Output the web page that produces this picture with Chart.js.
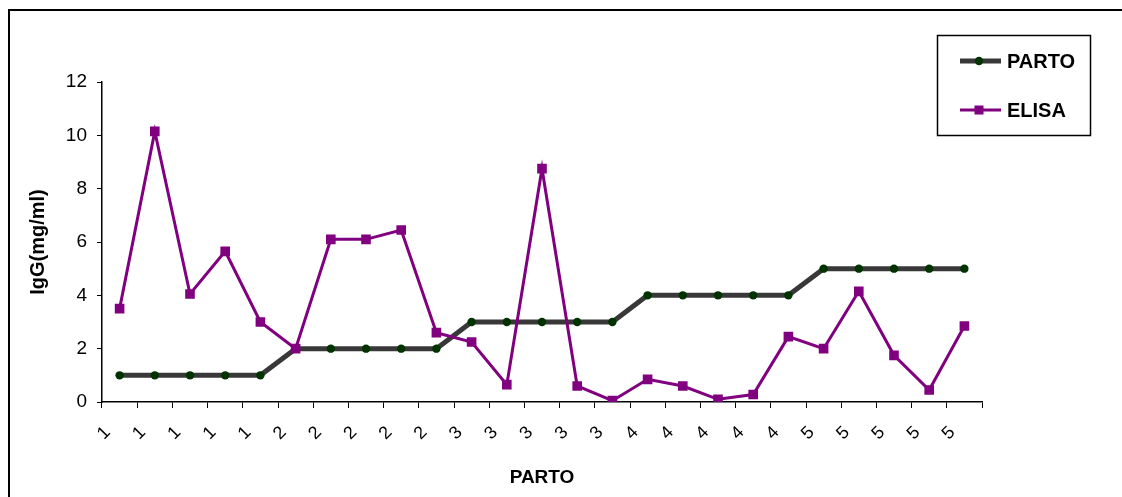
<!DOCTYPE html>
<html>
<head>
<meta charset="utf-8">
<title>IgG por parto</title>
<script src="https://cdn.jsdelivr.net/npm/chart.js@4.4.1/dist/chart.umd.min.js"></script>
<style>
  html, body { margin: 0; padding: 0; background: #ffffff; }
  #wrap { width: 1122px; height: 497px; }
</style>
</head>
<body>
<div id="wrap"><canvas id="chart" width="1122" height="497"></canvas></div>
<script>
// Número de parto de cada animal (eje X)
const categories = ['1','1','1','1','1','2','2','2','2','2','3','3','3','3','3','4','4','4','4','4','5','5','5','5','5'];
// Serie PARTO
const partoValues = [1,1,1,1,1,2,2,2,2,2,3,3,3,3,3,4,4,4,4,4,5,5,5,5,5];
// Serie ELISA, IgG en mg/ml
const elisaValues = [3.5,10.15,4.05,5.65,3.0,2.0,6.1,6.1,6.45,2.6,2.25,0.65,8.75,0.6,0.05,0.85,0.6,0.1,0.28,2.45,2.0,4.15,1.75,0.45,2.85];
// Escala del eje Y
const yMin = 0, yMax = 12, yStep = 2;

const FONT = '"Liberation Sans", Arial, Helvetica, sans-serif';

const styles = {
  parto: { line: '#383838', point: '#003300', width: 5 },
  elisa: { line: '#800080', point: '#800080', width: 3 }
};

// Marco exterior y leyenda con recuadro
const framePlugin = {
  id: 'frameAndLegend',
  afterDraw(chart) {
    const ctx = chart.ctx;
    ctx.save();
    // marco
    ctx.strokeStyle = '#000';
    ctx.lineWidth = 2;
    ctx.beginPath();
    ctx.moveTo(9, 600);
    ctx.lineTo(9, 10);
    ctx.lineTo(1200, 10);
    ctx.stroke();

    // recuadro de la leyenda
    ctx.lineWidth = 1.5;
    ctx.strokeRect(937.5, 35.5, 153, 100);

    const items = [
      { label: 'PARTO', s: styles.parto, shape: 'circle', y: 61 },
      { label: 'ELISA', s: styles.elisa, shape: 'rect', y: 110 }
    ];
    items.forEach(it => {
      ctx.strokeStyle = it.s.line;
      ctx.lineWidth = it.s.width;
      ctx.beginPath();
      ctx.moveTo(960, it.y);
      ctx.lineTo(1001, it.y);
      ctx.stroke();
      ctx.fillStyle = it.s.point;
      if (it.shape === 'circle') {
        ctx.beginPath();
        ctx.arc(979, it.y, 4.2, 0, Math.PI * 2);
        ctx.fill();
      } else {
        ctx.fillRect(979 - 4.5, it.y - 4.5, 9, 9);
      }
      ctx.fillStyle = '#000';
      ctx.font = 'bold 20px ' + FONT;
      ctx.textAlign = 'left';
      ctx.textBaseline = 'middle';
      ctx.fillText(it.label, 1007, it.y + 1);
    });
    ctx.restore();
  }
};

new Chart(document.getElementById('chart'), {
  type: 'line',
  data: {
    labels: categories,
    datasets: [
      {
        label: 'PARTO',
        data: partoValues,
        borderColor: styles.parto.line,
        borderWidth: styles.parto.width,
        pointStyle: 'circle',
        pointRadius: 4.2,
        pointBackgroundColor: styles.parto.point,
        pointBorderColor: styles.parto.point,
        pointBorderWidth: 0,
        tension: 0,
        order: 1
      },
      {
        label: 'ELISA',
        data: elisaValues,
        borderColor: styles.elisa.line,
        borderWidth: styles.elisa.width,
        pointStyle: 'rect',
        pointRadius: 6.8,
        pointBackgroundColor: styles.elisa.point,
        pointBorderColor: styles.elisa.point,
        pointBorderWidth: 0,
        tension: 0,
        order: 0
      }
    ]
  },
  options: {
    responsive: false,
    animation: false,
    events: [],
    layout: { padding: { top: 82, right: 140, left: 0, bottom: 0 } },
    plugins: {
      legend: { display: false },
      tooltip: { enabled: false }
    },
    scales: {
      x: {
        offset: true,
        grid: {
          offset: true,
          drawOnChartArea: false,
          drawTicks: true,
          tickLength: 6,
          tickColor: '#000',
          tickWidth: 1
        },
        border: { display: true, color: '#000', width: 1.5 },
        ticks: {
          autoSkip: false,
          minRotation: 45,
          maxRotation: 45,
          color: '#000',
          font: { family: FONT, size: 18 },
          labelOffset: -12,
          padding: 14
        },
        title: {
          display: true,
          text: 'PARTO',
          color: '#000',
          font: { family: FONT, size: 19, weight: 'bold' },
          padding: { top: 0, bottom: 8 }
        },
        afterFit(scale) { scale.height = 95; }
      },
      y: {
        min: yMin,
        max: yMax,
        ticks: {
          stepSize: yStep,
          color: '#000',
          font: { family: FONT, size: 19 },
          padding: 10
        },
        grid: {
          drawOnChartArea: false,
          drawTicks: true,
          tickLength: 5,
          tickColor: '#000',
          tickWidth: 1
        },
        border: { display: true, color: '#000', width: 1.5 },
        title: {
          display: true,
          text: 'IgG(mg/ml)',
          color: '#000',
          font: { family: FONT, size: 20, weight: 'bold' },
          padding: { top: 26, bottom: 0 }
        },
        afterFit(scale) { scale.width = 102; }
      }
    }
  },
  plugins: [framePlugin]
});
</script>
</body>
</html>
